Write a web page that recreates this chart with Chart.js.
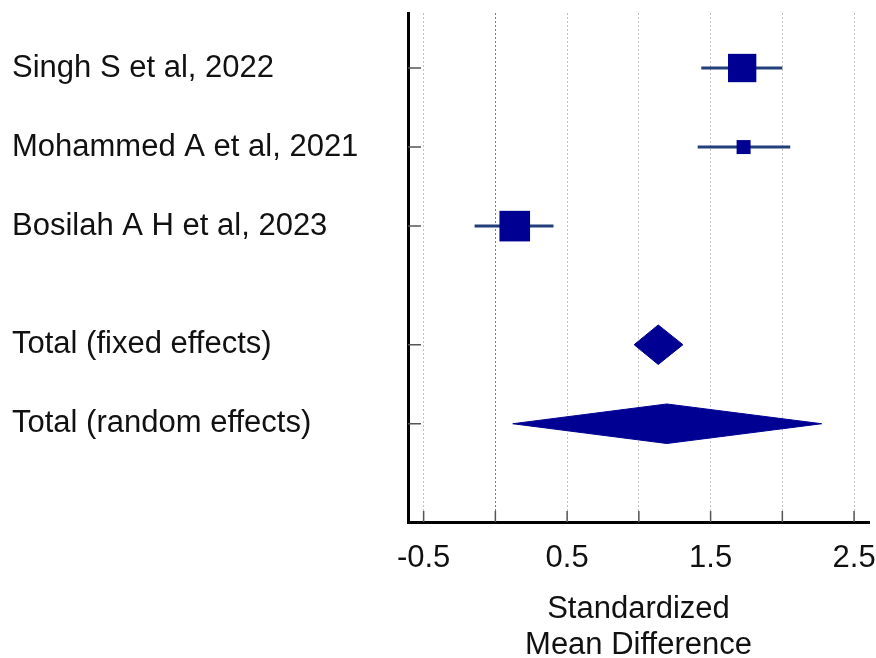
<!DOCTYPE html>
<html>
<head>
<meta charset="utf-8">
<script src="https://cdn.jsdelivr.net/npm/chart.js@4/dist/chart.umd.min.js"></script>
<style>
    html, body { margin: 0; padding: 0; background: #fff; }
    #wrap { width: 876px; height: 658px; }
</style>
</head>
<body>
<div id="wrap"><canvas id="forest" width="876" height="658"></canvas></div>
<script>
// Forest plot - standardized mean difference

var studyNames = ['Singh S et al, 2022', 'Mohammed A et al, 2021', 'Bosilah A H et al, 2023'];
var studyEst = [1.72, 1.73, 0.135];
var studyLow = [1.435, 1.41, -0.145];
var studyHigh = [2.0, 2.055, 0.405];
var studyWeight = [41.5, 10.1, 48.4];

var pooledNames = ['Total (fixed effects)', 'Total (random effects)'];
var pooledEst = [1.135, 1.195];
var pooledLow = [0.967, 0.121];
var pooledHigh = [1.307, 2.274];

var xTickValues = [-0.5, 0, 0.5, 1, 1.5, 2, 2.5];
var xTickLabels = ['-0.5', '0.5', '1.5', '2.5'];
var axisTitle = ['Standardized', 'Mean Difference'];

function forestPlot() {
    "use strict";

    var navy = '#000092';
    var ciColor = '#223f7a';
    var textColor = '#111111';
    var diamondHalf = 0.25;

    Chart.defaults.font.family = 'Arial, "Liberation Sans", sans-serif';

    // rows: studies one after another, then a gap, then the totals
    var studyRows = studyNames.map((n, i) => i + 1);
    var pooledRows = pooledNames.map((n, i) => studyNames.length + 1.5 + i);
    var allNames = studyNames.concat(pooledNames);
    var allRows = studyRows.concat(pooledRows);

    var datasets = [];

    datasets.push({
        label: 'studies',
        data: studyEst.map((v, i) => ({ x: v, y: studyRows[i] })),
        pointStyle: 'rect',
        pointRadius: studyWeight.map(w => Math.sqrt(w) * 4.4 / Math.SQRT2),
        pointHoverRadius: studyWeight.map(w => Math.sqrt(w) * 4.4 / Math.SQRT2),
        backgroundColor: navy,
        borderWidth: 0,
        order: 0
    });

    studyEst.forEach((v, i) => {
        datasets.push({
            label: 'ci' + i,
            data: [{ x: studyLow[i], y: studyRows[i] }, { x: studyHigh[i], y: studyRows[i] }],
            showLine: true,
            borderColor: ciColor,
            borderWidth: 3,
            pointRadius: 0,
            order: 1
        });
    });

    pooledEst.forEach((v, i) => {
        var r = pooledRows[i];
        datasets.push({
            label: 'top' + i,
            data: [{ x: pooledLow[i], y: r }, { x: v, y: r - diamondHalf }, { x: pooledHigh[i], y: r }],
            showLine: true,
            borderColor: navy,
            borderWidth: 1,
            pointRadius: 0,
            fill: false,
            order: 2
        });
        datasets.push({
            label: 'bottom' + i,
            data: [{ x: pooledLow[i], y: r }, { x: v, y: r + diamondHalf }, { x: pooledHigh[i], y: r }],
            showLine: true,
            borderColor: navy,
            backgroundColor: navy,
            borderWidth: 1,
            pointRadius: 0,
            fill: '-1',
            order: 2
        });
    });

    // no extra room for labels hanging over the plot edges
    function noOverhang(s) {
        s.paddingTop = 0;
        s.paddingBottom = 0;
        s.paddingLeft = 0;
        s.paddingRight = 0;
    }

    // little tick marks drawn inward from both axes
    var innerTicks = {
        id: 'innerTicks',
        afterDraw(chart) {
            var ctx = chart.ctx;
            var area = chart.chartArea;
            var xs = chart.scales.x;
            var ys = chart.scales.y;
            ctx.save();
            ctx.strokeStyle = '#555555';
            ctx.lineWidth = 1.5;
            ctx.beginPath();
            xs.ticks.forEach(t => {
                var px = xs.getPixelForValue(t.value);
                ctx.moveTo(px, area.bottom);
                ctx.lineTo(px, area.bottom - 11);
            });
            ys.ticks.forEach(t => {
                var py = ys.getPixelForValue(t.value);
                ctx.moveTo(area.left, py);
                ctx.lineTo(area.left + 13, py);
            });
            ctx.stroke();
            ctx.restore();
        }
    };

    var ctx = document.getElementById('forest').getContext('2d');
    var chart = new Chart(ctx, {
        type: 'scatter',
        data: { datasets: datasets },
        options: {
            responsive: false,
            animation: false,
            layout: { autoPadding: false, padding: { left: 12, right: 7, top: 13, bottom: 0 } },
            plugins: {
                legend: { display: false },
                tooltip: { enabled: false }
            },
            scales: {
                x: {
                    type: 'linear',
                    min: -0.609,
                    max: 2.604,
                    afterBuildTicks: s => { s.ticks = xTickValues.map(v => ({ value: v })); },
                    afterFit: s => { s.height = 136; noOverhang(s); },
                    ticks: {
                        autoSkip: false,
                        maxRotation: 0,
                        padding: 18,
                        color: textColor,
                        font: { size: 31 },
                        callback: function (value) {
                            var s = String(value);
                            return xTickLabels.indexOf(s) >= 0 ? s : '';
                        }
                    },
                    grid: {
                        color: c => (c.tick && c.tick.value === 0 ? '#6e7f90' : '#c2c2c2'),
                        lineWidth: 1,
                        drawTicks: false
                    },
                    border: { display: true, color: '#000000', width: 3, dash: [2, 2] },
                    title: {
                        display: true,
                        text: axisTitle,
                        color: textColor,
                        font: { size: 31, lineHeight: 1.16 },
                        padding: { top: 10, bottom: -5 }
                    }
                },
                y: {
                    type: 'linear',
                    reverse: true,
                    min: 0.304,
                    max: 6.743,
                    afterBuildTicks: s => { s.ticks = allRows.map(v => ({ value: v })); },
                    afterFit: s => { s.width = 396; noOverhang(s); },
                    ticks: {
                        crossAlign: 'far',
                        color: textColor,
                        font: { size: 31 },
                        callback: function (value) {
                            var i = allRows.indexOf(value);
                            return i < 0 ? '' : allNames[i];
                        }
                    },
                    grid: { display: false },
                    border: { display: true, color: '#000000', width: 3 }
                }
            }
        },
        plugins: [innerTicks]
    });
}

forestPlot();
</script>
</body>
</html>
